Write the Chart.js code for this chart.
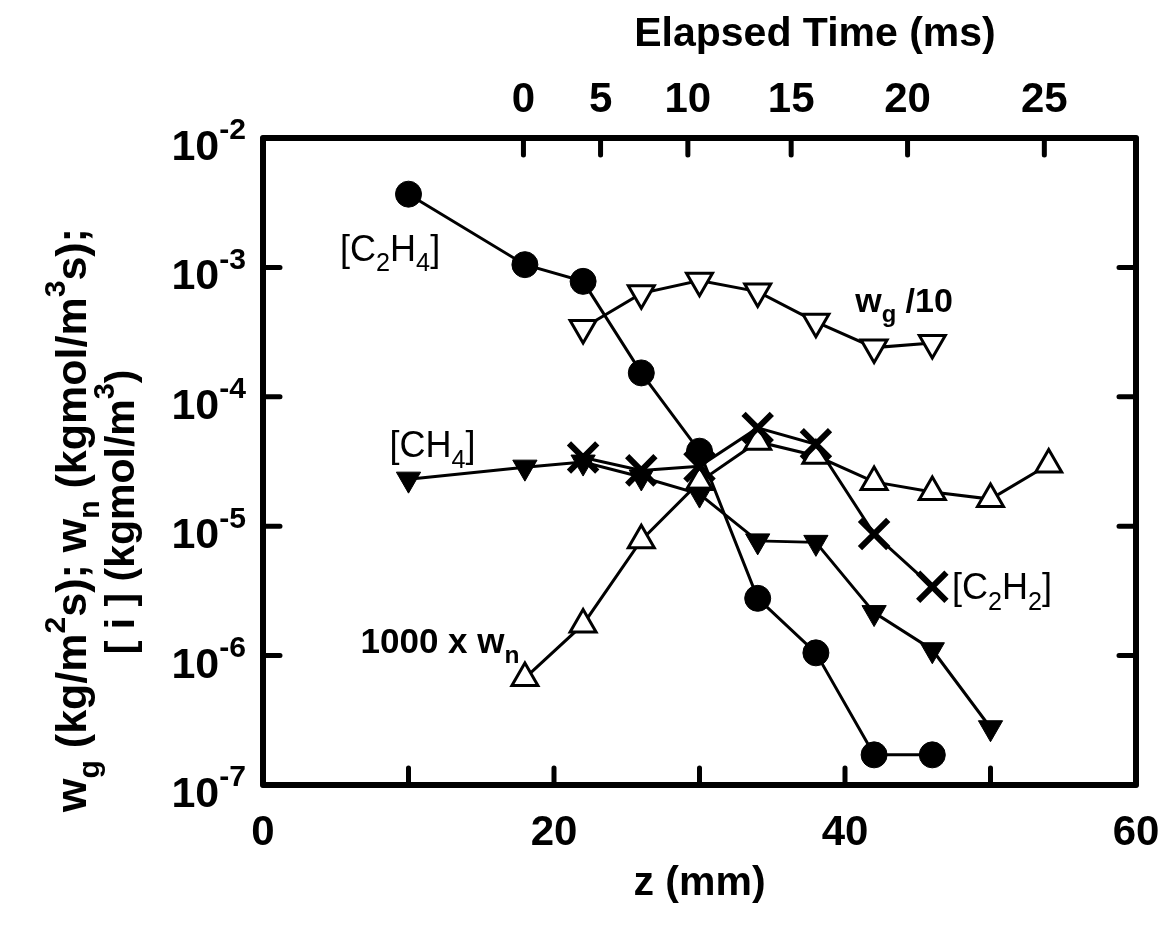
<!DOCTYPE html>
<html>
<head>
  <title>Species profiles along the flame</title>
  <script src="https://cdn.jsdelivr.net/npm/chart.js"></script>
  <style>
    body { margin: 0; background: #fff; }
  </style>
</head>
<body>
  <canvas id="chart" width="1165" height="928"></canvas>

  <script>
    // values, z in mm
    const zC2H4 = [10, 18, 22, 26, 30, 34, 38, 42, 46];
    const c2h4 = [3.68e-3, 1.05e-3, 7.8e-4, 1.53e-4, 3.8e-5, 2.77e-6, 1.05e-6, 1.71e-7, 1.71e-7];

    const zWg = [22, 26, 30, 34, 38, 42, 46];
    const wgOver10 = [3.4e-4, 6.3e-4, 7.9e-4, 6.5e-4, 3.8e-4, 2.4e-4, 2.6e-4];

    const zCH4 = [10, 18, 22, 26, 30, 34, 38, 42, 46, 50];
    const ch4 = [2.31e-5, 2.86e-5, 3.13e-5, 2.4e-5, 1.77e-5, 7.7e-6, 7.5e-6, 2.15e-6, 1.11e-6, 2.77e-7];

    const zC2H2 = [22, 26, 30, 34, 38, 42, 46];
    const c2h2 = [3.4e-5, 2.7e-5, 2.9e-5, 5.75e-5, 4.3e-5, 8.7e-6, 3.4e-6];

    const zWn = [18, 22, 26, 30, 34, 38, 42, 46, 50, 54];
    const wnTimes1000 = [6.7e-7, 1.74e-6, 7.8e-6, 2.2e-5, 4.5e-5, 3.5e-5, 2.2e-5, 1.84e-5, 1.62e-5, 3.0e-5];

    // axes
    const zLabelled = [0, 20, 40, 60];
    const timeLabels = ['0', '5', '10', '15', '20', '25'];
    const timeTickZ = [17.9, 23.2, 29.2, 36.3, 44.3, 53.7];
    const decades = [-7, -6, -5, -4, -3, -2];

    const FAMILY = '"Liberation Sans", Arial, Helvetica, sans-serif';

    function pts(xs, ys) {
      return xs.map((x, i) => ({ x: x, y: ys[i] }));
    }

    // text with sub/superscripts: parts = [[text, ''|'sub'|'sup'], ...]
    function drawRich(ctx, parts, x, y, size, weight, align) {
      const segs = parts.map(p => {
        const s = p[1] ? size * 0.7 : size;
        ctx.font = weight + ' ' + s + 'px ' + FAMILY;
        return { t: p[0], k: p[1], s: s, w: ctx.measureText(p[0]).width };
      });
      const total = segs.reduce((a, b) => a + b.w, 0);
      let cx = x;
      if (align === 'center') cx = x - total / 2;
      if (align === 'right') cx = x - total;
      ctx.textAlign = 'left';
      ctx.textBaseline = 'alphabetic';
      segs.forEach(seg => {
        ctx.font = weight + ' ' + seg.s + 'px ' + FAMILY;
        let dy = 0;
        if (seg.k === 'sub') dy = size * 0.3;
        if (seg.k === 'sup') dy = -size * 0.48;
        ctx.fillText(seg.t, cx, y + dy);
        cx += seg.w;
      });
    }

    const notes = [
      { z: 5.3, v: 1.13e-3, parts: [['[C', ''], ['2', 'sub'], ['H', ''], ['4', 'sub'], [']', '']], weight: 'normal', size: 36 },
      { z: 40.7, v: 4.56e-4, parts: [['w', ''], ['g', 'sub'], [' /10', '']], weight: 'bold', size: 34 },
      { z: 8.7, v: 3.43e-5, parts: [['[CH', ''], ['4', 'sub'], [']', '']], weight: 'normal', size: 36 },
      { z: 6.7, v: 1.05e-6, parts: [['1000 x w', ''], ['n', 'sub']], weight: 'bold', size: 35 },
      { z: 47.35, v: 2.72e-6, parts: [['[C', ''], ['2', 'sub'], ['H', ''], ['2', 'sub'], [']', '']], weight: 'normal', size: 36 }
    ];

    const frame = {
      id: 'frame',
      beforeDatasetsDraw(chart) {
        const ctx = chart.ctx;
        const a = chart.chartArea;
        const s = chart.scales;
        const len = 17;
        ctx.save();
        ctx.strokeStyle = '#000';
        ctx.lineWidth = 5;
        ctx.lineCap = 'round';
        ctx.beginPath();
        s.x.ticks.forEach(t => {
          if (t.value <= 0 || t.value >= 60) return;
          const px = s.x.getPixelForValue(t.value);
          ctx.moveTo(px, a.bottom); ctx.lineTo(px, a.bottom - len);
        });
        s.xTop.ticks.forEach(t => {
          const px = s.xTop.getPixelForValue(t.value);
          ctx.moveTo(px, a.top); ctx.lineTo(px, a.top + len);
        });
        s.y.ticks.forEach(t => {
          const py = s.y.getPixelForValue(t.value);
          ctx.moveTo(a.left, py); ctx.lineTo(a.left + len, py);
        });
        s.yRight.ticks.forEach(t => {
          const py = s.yRight.getPixelForValue(t.value);
          ctx.moveTo(a.right, py); ctx.lineTo(a.right - len, py);
        });
        ctx.stroke();
        ctx.lineCap = 'butt';
        ctx.lineJoin = 'round';
        ctx.lineWidth = 6;
        ctx.strokeRect(a.left, a.top, a.right - a.left, a.bottom - a.top);
        ctx.restore();
      },
      afterDatasetsDraw(chart) {
        const ctx = chart.ctx;
        const a = chart.chartArea;
        const s = chart.scales;
        ctx.save();
        ctx.fillStyle = '#000';

        // bottom tick labels
        ctx.font = 'bold 42px ' + FAMILY;
        ctx.textAlign = 'center';
        ctx.textBaseline = 'alphabetic';
        s.x.ticks.forEach(t => {
          if (zLabelled.indexOf(t.value) < 0) return;
          ctx.fillText(String(t.value), s.x.getPixelForValue(t.value), a.bottom + 60);
        });
        // top tick labels (elapsed time)
        s.xTop.ticks.forEach((t, i) => {
          ctx.fillText(timeLabels[i], s.xTop.getPixelForValue(t.value), a.top - 26);
        });
        // left tick labels 10^n
        s.y.ticks.forEach(t => {
          const n = Math.round(Math.log10(t.value));
          drawRich(ctx, [['10', ''], [String(n), 'sup']], a.left - 17, s.y.getPixelForValue(t.value) + 22, 43, 'bold', 'right');
        });

        // axis titles
        ctx.font = 'bold 41px ' + FAMILY;
        ctx.textAlign = 'center';
        ctx.fillText('z (mm)', (a.left + a.right) / 2, a.bottom + 110);
        ctx.fillText('Elapsed Time (ms)', 815, 46);

        ctx.save();
        ctx.translate(72, 520);
        ctx.rotate(-Math.PI / 2);
        drawRich(ctx, [['w', ''], ['g', 'sub'], [' (kg/m', ''], ['2', 'sup'], ['s); w', ''], ['n', 'sub'],
          [' (kgmol/m', ''], ['3', 'sup'], ['s);', '']], 0, 14, 43, 'bold', 'center');
        ctx.restore();
        ctx.save();
        ctx.translate(120, 512);
        ctx.rotate(-Math.PI / 2);
        drawRich(ctx, [['[ i ] (kgmol/m', ''], ['3', 'sup'], [')', '']], 0, 14, 41, 'bold', 'center');
        ctx.restore();

        // in-plot labels
        notes.forEach(n => {
          drawRich(ctx, n.parts, s.x.getPixelForValue(n.z), s.y.getPixelForValue(n.v), n.size, n.weight, 'left');
        });
        ctx.restore();
      }
    };

    const axisBase = {
      grid: { display: false, drawTicks: false },
      border: { display: false },
      ticks: { display: false }
    };

    new Chart(document.getElementById('chart'), {
      type: 'scatter',
      data: {
        datasets: [
          {
            label: '[C2H4]',
            data: pts(zC2H4, c2h4),
            showLine: true,
            borderColor: '#000',
            borderWidth: 3,
            pointStyle: 'circle',
            pointRadius: 13,
            pointBackgroundColor: '#000',
            pointBorderColor: '#000',
            pointBorderWidth: 1
          },
          {
            label: 'wg/10',
            data: pts(zWg, wgOver10),
            showLine: true,
            borderColor: '#000',
            borderWidth: 3,
            pointStyle: 'triangle',
            rotation: 180,
            pointRadius: 15,
            pointBackgroundColor: '#fff',
            pointBorderColor: '#000',
            pointBorderWidth: 3
          },
          {
            label: '[CH4]',
            data: pts(zCH4, ch4),
            showLine: true,
            borderColor: '#000',
            borderWidth: 3,
            pointStyle: 'triangle',
            rotation: 180,
            pointRadius: 14,
            pointBackgroundColor: '#000',
            pointBorderColor: '#000',
            pointBorderWidth: 1
          },
          {
            label: '[C2H2]',
            data: pts(zC2H2, c2h2),
            showLine: true,
            borderColor: '#000',
            borderWidth: 3,
            pointStyle: 'crossRot',
            pointRadius: 20,
            pointBackgroundColor: '#000',
            pointBorderColor: '#000',
            pointBorderWidth: 6
          },
          {
            label: '1000 x wn',
            data: pts(zWn, wnTimes1000),
            showLine: true,
            borderColor: '#000',
            borderWidth: 3,
            pointStyle: 'triangle',
            pointRadius: 15,
            pointBackgroundColor: '#fff',
            pointBorderColor: '#000',
            pointBorderWidth: 3
          }
        ]
      },
      options: {
        responsive: false,
        devicePixelRatio: 1,
        animation: false,
        layout: { padding: { left: 263, right: 29, top: 138, bottom: 143 } },
        plugins: { legend: { display: false }, tooltip: { enabled: false } },
        scales: {
          x: Object.assign({}, axisBase, {
            type: 'linear', position: 'bottom', min: 0, max: 60,
            ticks: { display: false, stepSize: 10 }
          }),
          xTop: Object.assign({}, axisBase, {
            type: 'linear', position: 'top', min: 0, max: 60,
            afterBuildTicks: axis => { axis.ticks = timeTickZ.map(v => ({ value: v })); }
          }),
          y: Object.assign({}, axisBase, {
            type: 'logarithmic', position: 'left', min: 1e-7, max: 1e-2,
            afterBuildTicks: axis => { axis.ticks = decades.map(d => ({ value: Math.pow(10, d) })); }
          }),
          yRight: Object.assign({}, axisBase, {
            type: 'logarithmic', position: 'right', min: 1e-7, max: 1e-2,
            afterBuildTicks: axis => { axis.ticks = decades.map(d => ({ value: Math.pow(10, d) })); }
          })
        }
      },
      plugins: [frame]
    });
  </script>
</body>
</html>
